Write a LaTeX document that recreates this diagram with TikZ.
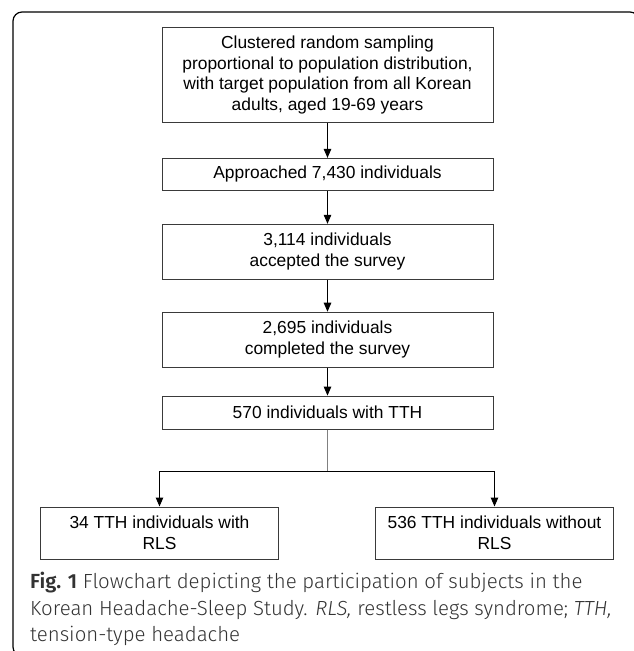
\documentclass[tikz,border=0pt]{standalone}
\usepackage{fontspec}
\setmainfont{Liberation Sans}
\newfontfamily\capfont{Fira Sans}[UprightFont=* Light, BoldFont=* SemiBold, ItalicFont=* Light Italic]
\usepackage{tikz}
\usetikzlibrary{positioning,arrows.meta,calc}
\definecolor{boxline}{HTML}{3A3A3A}
\definecolor{captext}{HTML}{333333}

\begin{document}
\begin{tikzpicture}[x=1pt, y=1pt, node distance=33pt,
  stage/.style={draw=boxline, line width=0.9pt, align=center, font=\fontsize{17.4}{21}\selectfont, minimum width=331pt, inner sep=3pt},
  leaf/.style={draw=boxline, line width=0.9pt, align=center, font=\fontsize{17.4}{20.5}\selectfont, minimum width=238pt, minimum height=52pt, inner sep=3pt},
  arr/.style={-{Triangle[length=9pt, width=7.5pt]}, line width=1pt, black}]
  \useasboundingbox (0,0) rectangle (633,-651);
  % outer frame, cut off at the right and bottom
  \draw[line width=1.2pt, rounded corners=9pt] (13,-656) rectangle (639,-12);
  \node[stage, anchor=north, minimum height=95pt, font=\fontsize{17.4}{20.4}\selectfont] (sampling) at (327.5,-27) {Clustered random sampling\\proportional to population distribution,\\with target population from all Korean\\adults, aged 19-69 years};
  \node[stage, below=35pt of sampling, minimum height=32pt] (approached) {Approached 7,430 individuals};
  \node[stage, below=of approached, minimum height=55pt] (accepted) {3,114 individuals\\accepted the survey};
  \node[stage, below=32pt of accepted, minimum height=55pt] (completed) {2,695 individuals\\completed the survey};
  \node[stage, below=28pt of completed, minimum height=33pt] (tth) {570 individuals with TTH};
  \coordinate (split) at ($(tth.south)+(0,-42)$);
  \node[leaf, anchor=north] (withrls) at ($(split)+(-168,-35)$) {34 TTH individuals with\\RLS};
  \node[leaf, anchor=north] (withoutrls) at ($(split)+(167,-35)$) {536 TTH individuals without\\RLS};
  \draw[arr] (sampling) -- (approached); \draw[arr] (approached) -- (accepted); \draw[arr] (accepted) -- (completed); \draw[arr] (completed) -- (tth);
  \draw[gray, line width=0.9pt] (tth.south) -- (split);
  \draw[arr] (split) -| (withrls.north); \draw[arr] (split) -| (withoutrls.north);
  \node[anchor=north west, align=left, inner sep=0pt, text=captext, font=\capfont\fontsize{20.4}{26.5}\selectfont] (caption) at (30,-572) {\textbf{Fig. 1} Flowchart depicting the participation of subjects in the\\Korean Headache-Sleep Study. \textit{RLS,} restless legs syndrome; \textit{TTH,}\\tension-type headache};
\end{tikzpicture}
\end{document}
